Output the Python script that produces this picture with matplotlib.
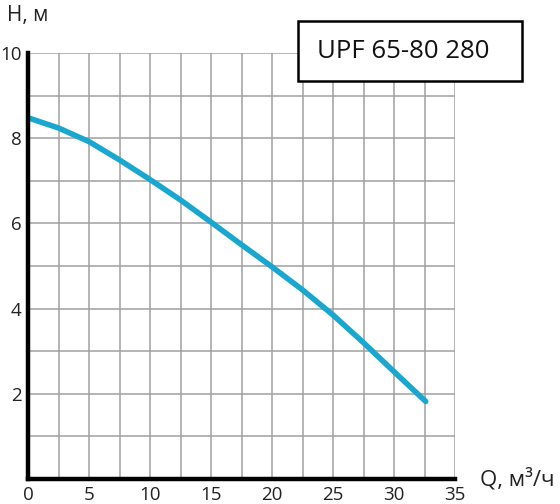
import matplotlib
matplotlib.use("Agg")
import matplotlib.pyplot as plt
from matplotlib.patches import Rectangle

plt.rcParams['font.family'] = ['Open Sans', 'DejaVu Sans']

Q = [0, 2.5, 5, 7.5, 10, 12.5, 15, 17.5, 20, 22.5, 25, 27.5, 30, 32.6]
H = [8.48, 8.24, 7.92, 7.49, 7.03, 6.55, 6.03, 5.5, 4.98, 4.44, 3.85, 3.2, 2.52, 1.82]
x_ticks = [0, 5, 10, 15, 20, 25, 30, 35]
y_ticks = [2, 4, 6, 8, 10]
title = "UPF 65-80 280"

fig = plt.figure(figsize=(5.6, 5.04), dpi=100)
ax = fig.add_axes([28/560, 25/504, 427/560, 426/504])
ax.set_xlim(0, 35)
ax.set_ylim(0, 10)

for v in [i * 2.5 for i in range(1, 15)]:
    ax.axvline(v, color='#a0a0a0', lw=1.1, zorder=1)
for v in range(1, 11):
    ax.axhline(v, color='#a0a0a0', lw=1.1, zorder=1)

ax.plot(Q, H, color='#19a7cf', lw=4.0, solid_capstyle='round', solid_joinstyle='round', zorder=3)

for s in ['top', 'right']:
    ax.spines[s].set_visible(False)
for s in ['left', 'bottom']:
    ax.spines[s].set_linewidth(3.2)
    ax.spines[s].set_color('black')
    ax.spines[s].set_zorder(4)

ax.set_xticks(x_ticks)
ax.set_yticks(y_ticks)
ax.tick_params(axis='both', length=0, labelsize=13.5, colors='#222222')
ax.tick_params(axis='x', pad=5)
ax.tick_params(axis='y', pad=4.5)

fig.text(7/560, 1 - 15/504, "Н, м", fontsize=15, va='center', ha='left', color='#222222')
fig.text(480/560, 1 - 479/504, "Q, м³/ч", fontsize=16, va='center', ha='left', color='#222222')

rect = Rectangle((298/560, 1 - 81/504), 224/560, 60/504, transform=fig.transFigure,
                 facecolor='white', edgecolor='black', lw=1.8, zorder=10)
fig.patches.append(rect)
fig.text(317/560, 1 - 52/504, title, fontsize=18.5, va='center', ha='left', color='#111111', zorder=11)

fig.savefig("out.png", dpi=100)
